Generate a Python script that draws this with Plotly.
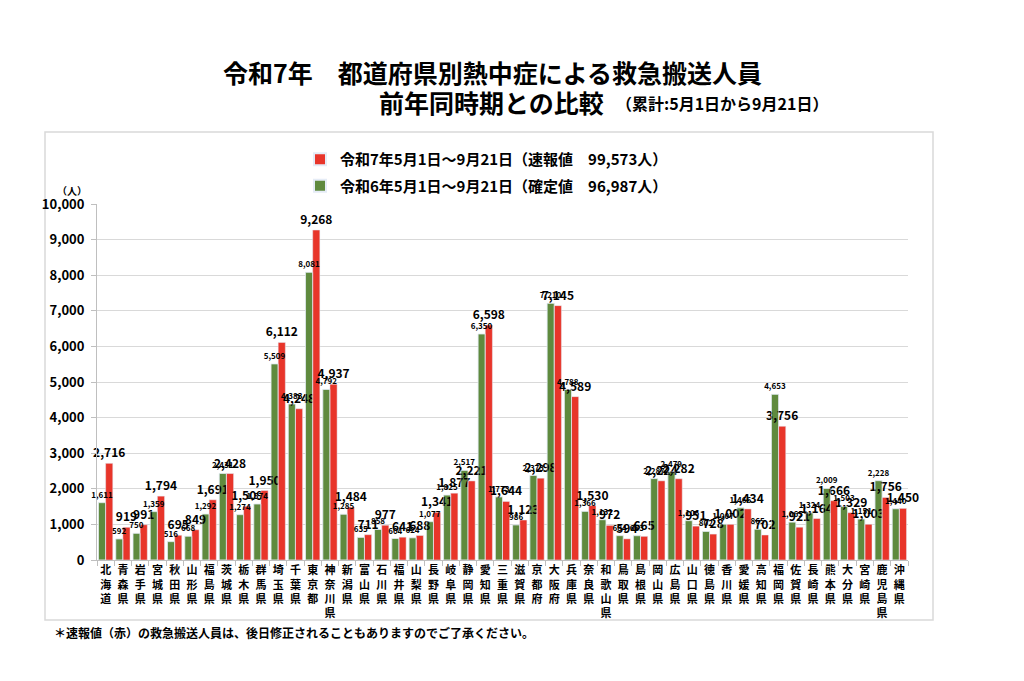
import plotly.graph_objects as go

# 都道府県と搬送人員
prefs = ["北海道", "青森県", "岩手県", "宮城県", "秋田県", "山形県", "福島県", "茨城県", "栃木県", "群馬県",
         "埼玉県", "千葉県", "東京都", "神奈川県", "新潟県", "富山県", "石川県", "福井県", "山梨県", "長野県",
         "岐阜県", "静岡県", "愛知県", "三重県", "滋賀県", "京都府", "大阪府", "兵庫県", "奈良県", "和歌山県",
         "鳥取県", "島根県", "岡山県", "広島県", "山口県", "徳島県", "香川県", "愛媛県", "高知県", "福岡県",
         "佐賀県", "長崎県", "熊本県", "大分県", "宮崎県", "鹿児島県", "沖縄県"]

r7 = [2716, 919, 991, 1794, 695, 849, 1691, 2428, 1509, 1950,
      6112, 4248, 9268, 4937, 1484, 711, 977, 641, 688, 1341,
      1877, 2221, 6598, 1644, 1123, 2298, 7145, 4589, 1530, 972,
      594, 665, 2224, 2282, 951, 728, 1002, 1434, 702, 3756,
      921, 1164, 1666, 1329, 1003, 1756, 1450]

r6 = [1611, 592, 750, 1359, 516, 668, 1292, 2431, 1274, 1574,
      5509, 4383, 8081, 4792, 1285, 635, 858, 604, 624, 1077,
      1825, 2517, 6350, 1773, 986, 2373, 7210, 4788, 1366, 1132,
      684, 683, 2287, 2479, 1106, 802, 1007, 1466, 865, 4653,
      1065, 1324, 2009, 1503, 1151, 2228, 1440]

name_r7 = "令和7年5月1日～9月21日（速報値　99,573人）"
name_r6 = "令和6年5月1日～9月21日（確定値　96,987人）"

RED = "#E8352A"
GREEN = "#5F8A3E"
FONT = "Noto Sans CJK JP"

W, H = 1024, 681
OFF = 8  # ページ余白分


def px_x(p):
    return (p - OFF) / W


def px_y(p):
    return 1 - (p - OFF) / H


# 縦書き風のラベル
labels = ["<br>".join(list(p)) for p in prefs]

fig = go.Figure()
fig.add_trace(go.Bar(
    x=labels, y=r6, name=name_r6, marker_color=GREEN, legendgroup="r6", legendrank=2,
    offsetgroup="a",
))
fig.add_trace(go.Bar(
    x=labels, y=r7, name=name_r7, marker_color=RED, legendgroup="r7", legendrank=1,
    offsetgroup="b",
    text=[f"{v:,}" for v in r7], textposition="outside", constraintext="none",
    textfont=dict(size=12, color="black", family=FONT, weight="bold"), cliponaxis=False,
))
# 緑のラベルを最前面に（透明バー）
fig.add_trace(go.Bar(
    x=labels, y=r6, marker_color="rgba(0,0,0,0)", offsetgroup="a", showlegend=False,
    hoverinfo="skip",
    text=[f"{v:,}" for v in r6], textposition="outside", constraintext="none",
    textfont=dict(size=8, color="black", family=FONT, weight="bold"), cliponaxis=False,
))

fig.update_layout(
    width=W, height=H,
    margin=dict(l=0, r=0, t=0, b=0, autoexpand=False),
    paper_bgcolor="white", plot_bgcolor="white",
    font=dict(family=FONT, color="black"),
    barmode="group", bargap=0.17, bargroupgap=0,
    showlegend=True,
    legend=dict(x=px_x(300), y=px_y(143), xanchor="left", yanchor="top",
                traceorder="grouped", font=dict(size=15, family=FONT, weight="bold"),
                itemsizing="constant", tracegroupgap=4, bgcolor="rgba(0,0,0,0)"),
    xaxis=dict(domain=[px_x(97), px_x(908)], tickfont=dict(size=11, family=FONT, weight="bold"),
               showline=True, linecolor="#bfbfbf", ticks="outside", tickson="boundaries",
               ticklen=5, tickcolor="#bfbfbf", tickangle=0, automargin=False),
    yaxis=dict(domain=[px_y(560), px_y(204)], range=[0, 10000], dtick=1000,
               tickformat=",", tickfont=dict(size=13, family=FONT, weight="bold"),
               showgrid=True, gridcolor="#d9d9d9", zeroline=False,
               showline=True, linecolor="#bfbfbf", ticks="outside", ticklen=5,
               tickcolor="#bfbfbf", ticklabelstandoff=4, automargin=False),
)

# 外枠
fig.add_shape(type="rect", xref="paper", yref="paper",
              x0=px_x(45), x1=px_x(933), y0=px_y(620), y1=px_y(132),
              line=dict(color="#d9d9d9", width=1.5), layer="below")

fig.add_annotation(text="<b>令和7年　都道府県別熱中症による救急搬送人員</b>",
                   xref="paper", yref="paper", x=px_x(492), y=px_y(72),
                   xanchor="center", yanchor="middle",
                   showarrow=False, font=dict(size=25, family=FONT))
fig.add_annotation(text="<b>前年同時期との比較</b>",
                   xref="paper", yref="paper", x=px_x(377), y=px_y(102),
                   xanchor="left", yanchor="middle",
                   showarrow=False, font=dict(size=25, family=FONT))
fig.add_annotation(text="<b>（累計:5月1日から9月21日）</b>",
                   xref="paper", yref="paper", x=px_x(614), y=px_y(103),
                   xanchor="left", yanchor="middle",
                   showarrow=False, font=dict(size=16, family=FONT))
fig.add_annotation(text="<b>（人）</b>",
                   xref="paper", yref="paper", x=px_x(72), y=px_y(190),
                   xanchor="center", yanchor="middle",
                   showarrow=False, font=dict(size=10, family=FONT))
fig.add_annotation(text="<b>＊速報値（赤）の救急搬送人員は、後日修正されることもありますのでご了承ください。</b>",
                   xref="paper", yref="paper", x=px_x(52), y=px_y(632),
                   xanchor="left", yanchor="middle",
                   showarrow=False, font=dict(size=12, family=FONT))

fig.write_html("out.html")
